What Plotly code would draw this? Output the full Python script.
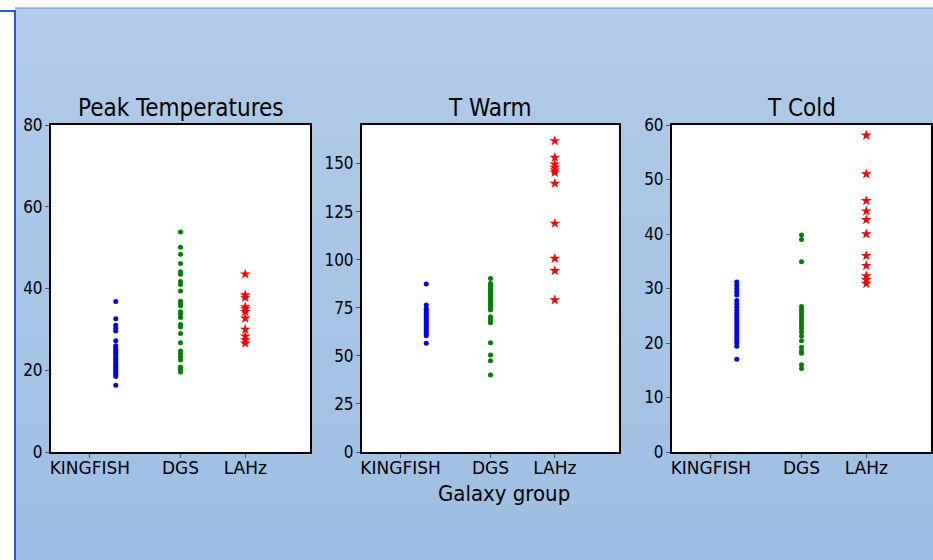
import plotly.graph_objects as go

# ---------------- data ----------------
categories = ["KINGFISH", "DGS", "LAHz"]
panel_titles = ["Peak Temperatures", "T Warm", "T Cold"]
x_axis_title = "Galaxy group"

peak_kingfish = [36.8, 32.6, 31.0, 30.3, 29.6, 27.2, 26.0, 25.5, 25.0, 24.6, 24.2, 23.8,
                 23.3, 22.9, 22.5, 22.0, 21.6, 21.2, 20.8, 20.4, 20.0, 19.5, 19.0, 18.5, 16.3]
peak_dgs = [53.8, 50.1, 48.4, 46.1, 44.1, 43.5, 41.7, 41.0, 39.4, 36.9, 36.4, 35.8, 34.3,
            33.7, 32.9, 31.2, 30.6, 29.0, 26.7, 24.7, 24.1, 23.3, 22.5, 20.8, 20.2, 19.6]
peak_lahz = [43.5, 38.4, 37.8, 35.5, 35.0, 34.3, 32.7, 30.0, 28.3, 27.4, 26.6]

warm_kingfish = [87.3, 76.4, 74.5, 73.5, 72.5, 71.5, 70.5, 69.5, 68.5, 67.5, 66.5, 65.5,
                 64.5, 63.5, 62.5, 61.5, 60.5, 56.5]
warm_dgs = [90.2, 87.6, 86.5, 85.5, 84.5, 83.5, 82.5, 81.5, 80.5, 79.5, 78.5, 77.5, 76.5,
            75.5, 74.5, 73.8, 70.3, 69.2, 68.2, 67.2, 56.8, 50.4, 47.4, 40.0]
warm_lahz = [161.7, 153.1, 149.6, 147.9, 146.5, 145.3, 139.6, 118.8, 100.6, 94.2, 79.0]

cold_kingfish = [31.2, 30.6, 30.0, 29.4, 28.8, 27.8, 27.2, 26.6, 26.0, 25.5, 25.0, 24.5,
                 24.0, 23.5, 23.0, 22.5, 22.0, 21.5, 21.0, 20.5, 20.0, 19.4, 17.0]
cold_dgs = [39.8, 39.0, 34.9, 26.7, 26.2, 25.7, 25.2, 24.7, 24.2, 23.7, 23.2, 22.6, 22.0,
            21.3, 20.4, 19.2, 18.6, 18.1, 16.0, 15.3]
cold_lahz = [58.1, 51.0, 46.1, 44.2, 42.6, 40.0, 36.0, 34.2, 32.3, 31.6, 30.9]

y_ranges = [[0, 80], [0, 170], [0, 60]]
y_ticks = [[0, 20, 40, 60, 80], [0, 25, 50, 75, 100, 125, 150], [0, 10, 20, 30, 40, 50, 60]]

panels = [
    [peak_kingfish, peak_dgs, peak_lahz],
    [warm_kingfish, warm_dgs, warm_lahz],
    [cold_kingfish, cold_dgs, cold_lahz],
]

# ---------------- style ----------------
W, H = 933, 560
colors = ["#0000ff", "#008000", "#ff0000"]
symbols = ["circle", "circle", "star"]
sizes = [5, 5, 8]
cat_pos = [1, 2, 3]
tick_pos = [0.6, 2, 3]
x_doms = [(51, 310), (362, 619), (672, 931)]
y_top, y_bot = 125, 452
FONT = "DejaVu Sans"
FONT_C = "DejaVu Sans Condensed, DejaVu Sans"

fig = go.Figure()

for p, series in enumerate(panels):
    xa = "x" if p == 0 else f"x{p+1}"
    ya = "y" if p == 0 else f"y{p+1}"
    for c, vals in enumerate(series):
        fig.add_trace(go.Scatter(
            x=[cat_pos[c]] * len(vals), y=vals, mode="markers",
            xaxis=xa, yaxis=ya, showlegend=False,
            marker=dict(color=colors[c], symbol=symbols[c], size=sizes[c],
                        line=dict(width=0)),
        ))

layout = dict(
    width=W, height=H, margin=dict(l=0, r=0, t=0, b=0, pad=0), autosize=False,
    paper_bgcolor="white", plot_bgcolor="white",
    shapes=[], annotations=[],
)

for p in range(3):
    sfx = "" if p == 0 else str(p + 1)
    x0, x1 = x_doms[p]
    layout["xaxis" + sfx] = dict(
        domain=[x0 / W, x1 / W], range=[0, 4], anchor="y" + sfx, automargin=False,
        tickvals=tick_pos, ticktext=categories,
        showline=True, mirror=True, linecolor="black", linewidth=2,
        ticks="outside", ticklen=4, tickcolor="#555", tickwidth=1,
        ticklabelstandoff=-4,
        showgrid=False, zeroline=False,
        tickfont=dict(family=FONT, size=17, color="black"),
    )
    layout["yaxis" + sfx] = dict(
        domain=[(H - y_bot) / H, (H - y_top) / H], range=y_ranges[p], anchor="x" + sfx,
        automargin=False, tickvals=y_ticks[p],
        showline=True, mirror=True, linecolor="black", linewidth=2,
        ticks="outside", ticklen=4, tickcolor="#555", tickwidth=1,
        ticklabelstandoff=-1,
        showgrid=False, zeroline=False,
        tickfont=dict(family=FONT_C, size=17, color="black"),
    )
    layout["annotations"].append(dict(
        text=panel_titles[p], xref="paper", yref="paper",
        x=(x0 + x1) / 2 / W, y=(H - y_top + 1) / H, xanchor="center", yanchor="bottom",
        showarrow=False, font=dict(family=FONT_C, size=24, color="black"),
    ))

layout["annotations"].append(dict(
    text=x_axis_title, xref="paper", yref="paper",
    x=504 / W, y=(H - 493) / H, xanchor="center", yanchor="middle",
    showarrow=False, font=dict(family=FONT_C, size=22, color="black"),
))

# gradient slide background
top_c = (177, 203, 232)
bot_c = (158, 191, 227)
n = 40
bx0, by0 = 15, 8
for i in range(n):
    t = i / (n - 1)
    col = tuple(round(top_c[k] + (bot_c[k] - top_c[k]) * t) for k in range(3))
    ya0 = by0 + (H - by0) * i / n
    ya1 = by0 + (H - by0) * (i + 1) / n + 1
    layout["shapes"].append(dict(
        type="rect", xref="paper", yref="paper", layer="below",
        x0=bx0 / W, x1=1, y0=1 - min(ya1, H) / H, y1=1 - ya0 / H,
        fillcolor="rgb(%d,%d,%d)" % col, line=dict(width=0),
    ))
layout["shapes"].append(dict(type="line", xref="paper", yref="paper", layer="below",
                             x0=bx0 / W, x1=1, y0=1 - by0 / H, y1=1 - by0 / H,
                             line=dict(color="#5a8ee0", width=1)))
layout["shapes"].append(dict(type="line", xref="paper", yref="paper", layer="below",
                             x0=bx0 / W, x1=bx0 / W, y0=0, y1=1 - 10 / H,
                             line=dict(color="#2f55d8", width=2)))
layout["shapes"].append(dict(type="line", xref="paper", yref="paper", layer="below",
                             x0=0, x1=bx0 / W, y0=1 - 11 / H, y1=1 - 11 / H,
                             line=dict(color="#2f55d8", width=2)))
# white plot areas on top of the slide background
for p in range(3):
    x0, x1 = x_doms[p]
    layout["shapes"].append(dict(
        type="rect", xref="paper", yref="paper", layer="below",
        x0=x0 / W, x1=x1 / W, y0=(H - y_bot) / H, y1=(H - y_top) / H,
        fillcolor="white", line=dict(width=0),
    ))

fig.update_layout(**layout)
fig.write_html("out.html")
